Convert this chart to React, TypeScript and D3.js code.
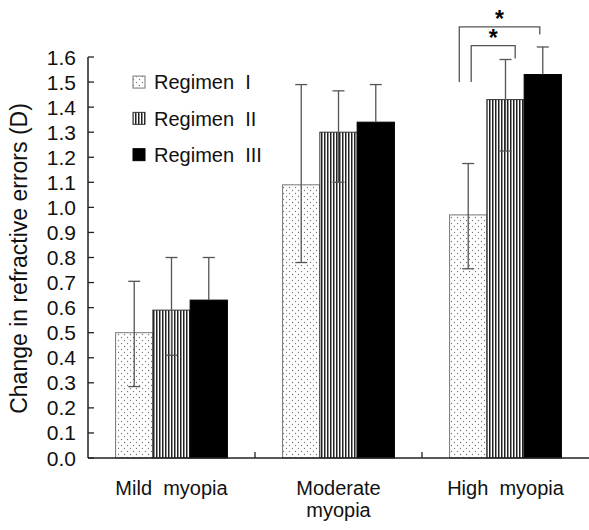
import React from 'react';
import * as d3 from 'd3';

// data
const categories = ['Mild myopia', 'Moderate myopia', 'High myopia'];
const categoryLines = [['Mild  myopia'], ['Moderate', 'myopia'], ['High  myopia']];
const series = ['Regimen  I', 'Regimen  II', 'Regimen  III'];

const means = [
  [0.5, 0.59, 0.63],
  [1.09, 1.3, 1.34],
  [0.97, 1.43, 1.53],
];
const errUpper = [
  [0.705, 0.8, 0.8],
  [1.49, 1.465, 1.49],
  [1.175, 1.59, 1.64],
];
const errLower = [
  [0.285, 0.41, 0.46],
  [0.78, 1.1, 1.19],
  [0.755, 1.225, 1.42],
];

// significance brackets in High myopia: [leftSlot, rightSlot, top, leftFoot, rightFoot]
const brackets = [
  [0.26, 2.42, 1.72, 1.5, 1.69],
  [0.58, 1.76, 1.645, 1.5, 1.594],
];

const yTicks = d3.range(0, 17).map(d => d / 10);

const W = 589;
const H = 530;
const font = '"Liberation Sans", Arial, sans-serif';

export default function App() {
  const margin = { top: 57, right: 0, bottom: 72, left: 88 };

  const y = d3.scaleLinear().domain([0, 1.6]).range([H - margin.bottom, margin.top]);
  const x = d3.scaleBand().domain(categories).range([margin.left, W - margin.right]).padding(0);
  const xs = d3.scaleBand().domain(series).range([0, x.bandwidth()]).paddingInner(0).paddingOuter(0.74);
  const bw = xs.bandwidth();
  const fills = ['url(#dots)', 'url(#stripes)', '#000'];
  const strokes = ['#777', '#333', '#000'];
  const cap = 6;
  const y0 = y(0);

  const high = categories[2];
  const groupLeft = (x(high) as number) + (xs(series[0]) as number);

  return (
    <svg width={W} height={H} style={{ position: 'absolute', left: 0, top: 0, background: '#fff' }} fontFamily={font}>
      <defs>
        <pattern id="dots" width={6} height={6} patternUnits="userSpaceOnUse">
          <rect width={6} height={6} fill="#fff" />
          <circle cx={1.5} cy={1.5} r={0.65} fill="#777" />
          <circle cx={4.5} cy={4.5} r={0.65} fill="#777" />
        </pattern>
        <pattern id="stripes" width={3} height={3} patternUnits="userSpaceOnUse">
          <rect width={3} height={3} fill="#fff" />
          <rect width={1.5} height={3} fill="#222" />
        </pattern>
      </defs>

      {/* bars */}
      {categories.map((c, ci) =>
        series.map((s, si) => {
          const bx = (x(c) as number) + (xs(s) as number);
          return (
            <rect
              key={c + s}
              x={bx}
              y={y(means[ci][si])}
              width={bw}
              height={y0 - y(means[ci][si])}
              fill={fills[si]}
              stroke={strokes[si]}
              strokeWidth={1}
            />
          );
        })
      )}

      {/* error bars (the lower half is hidden inside the black bars) */}
      {categories.map((c, ci) =>
        series.map((s, si) => {
          const cx = (x(c) as number) + (xs(s) as number) + bw / 2;
          const lo = si === 2 ? means[ci][si] : errLower[ci][si];
          return (
            <g key={'e' + c + s} stroke="#555" strokeWidth={1.3}>
              <line x1={cx} x2={cx} y1={y(errUpper[ci][si])} y2={y(lo)} />
              <line x1={cx - cap} x2={cx + cap} y1={y(errUpper[ci][si])} y2={y(errUpper[ci][si])} />
              {si !== 2 && <line x1={cx - cap} x2={cx + cap} y1={y(lo)} y2={y(lo)} />}
            </g>
          );
        })
      )}

      {/* significance brackets */}
      {brackets.map(([l, r, top, lf, rf], i) => {
        const xl = groupLeft + l * bw;
        const xr = groupLeft + r * bw;
        return (
          <g key={'b' + i}>
            <path
              d={`M${xl},${y(lf)}V${y(top)}H${xr}V${y(rf)}`}
              fill="none"
              stroke="#555"
              strokeWidth={1.3}
            />
            <text
              x={(xl + xr) / 2}
              y={y(top) + 0.5}
              textAnchor="middle"
              fontSize={23}
              fontWeight="bold"
              fill="#000"
            >
              *
            </text>
          </g>
        );
      })}

      {/* y axis */}
      <line x1={margin.left} x2={margin.left} y1={y(1.6)} y2={y0} stroke="#222" strokeWidth={1.5} />
      {yTicks.map(t => (
        <g key={'t' + t}>
          <line x1={margin.left} x2={margin.left + 6} y1={y(t)} y2={y(t)} stroke="#222" strokeWidth={1.3} />
          <text x={76} y={y(t)} dy="0.36em" textAnchor="end" fontSize={21} fill="#111">
            {d3.format('.1f')(t)}
          </text>
        </g>
      ))}

      {/* x axis */}
      <line x1={margin.left} x2={W} y1={y0} y2={y0} stroke="#222" strokeWidth={1.5} />
      {categories.slice(1).map(c => (
        <line key={'s' + c} x1={x(c)} x2={x(c)} y1={y0} y2={y0 - 6} stroke="#222" strokeWidth={1.3} />
      ))}
      {categories.map((c, ci) => (
        <text
          key={'l' + c}
          x={(x(c) as number) + x.bandwidth() / 2}
          y={495}
          textAnchor="middle"
          fontSize={20}
          fill="#111"
          style={{ whiteSpace: 'pre' }}
        >
          {categoryLines[ci].map((ln, li) => (
            <tspan key={li} x={(x(c) as number) + x.bandwidth() / 2} dy={li === 0 ? 0 : 22}>
              {ln}
            </tspan>
          ))}
        </text>
      ))}

      {/* y label */}
      <text
        transform={`translate(27,${(y(1.6) + y0) / 2 + 1}) rotate(-90)`}
        textAnchor="middle"
        fontSize={23}
        fill="#111"
      >
        Change in refractive errors (D)
      </text>

      {/* legend */}
      {series.map((s, si) => {
        const ly = y(1.5) + si * 36.3;
        return (
          <g key={'lg' + s}>
            <rect x={133} y={ly - 6} width={12} height={12} fill={fills[si]} stroke={strokes[si]} strokeWidth={1} />
            <text x={154} y={ly} dy="0.36em" fontSize={20} fill="#111" style={{ whiteSpace: 'pre' }}>
              {s}
            </text>
          </g>
        );
      })}
    </svg>
  );
}
